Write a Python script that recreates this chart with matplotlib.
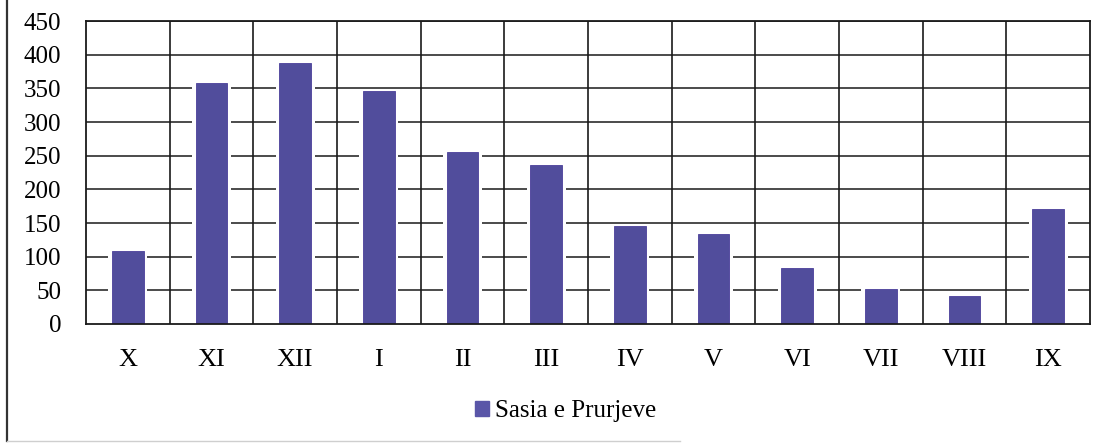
import numpy as np
import matplotlib.pyplot as plt
from matplotlib.lines import Line2D

# monthly data (hydrological year, Oct -> Sep)
muajt = ['X', 'XI', 'XII', 'I', 'II', 'III', 'IV', 'V', 'VI', 'VII', 'VIII', 'IX']
prurjet = [108, 358, 387, 346, 256, 236, 145, 134, 83, 52, 42, 171]
yticks = [0, 50, 100, 150, 200, 250, 300, 350, 400, 450]
emri_serise = 'Sasia e Prurjeve'

plt.rcParams['font.family'] = ['Liberation Serif', 'DejaVu Serif']

fig = plt.figure(figsize=(11.09, 4.44), dpi=100)
ax = fig.add_axes([86/1109, 1-324/444, (1090-86)/1109, (324-21)/444])

x = np.arange(len(muajt))
bar_col = '#514d9c'

# white halo behind the bars (gridlines stop short of the bars)
ax.bar(x, prurjet, width=0.47, color='white', zorder=2)
ax.bar(x, prurjet, width=0.38, color=bar_col, edgecolor='#4a3f9a', linewidth=0.6, zorder=3,
       label=emri_serise)

ax.set_xlim(-0.5, len(muajt) - 0.5)
ax.set_ylim(0, 450)
ax.set_yticks(yticks)
ax.set_xticks(x)
ax.set_xticklabels(muajt)

# gridlines: horizontal at every tick, vertical between months
for y in yticks[1:]:
    ax.axhline(y, color='#1a1a1a', lw=1.1, zorder=1)
for xv in x[:-1] + 0.5:
    ax.axvline(xv, color='#1a1a1a', lw=1.2, zorder=1)

for s in ax.spines.values():
    s.set_color('#1a1a1a')
    s.set_linewidth(1.3)
    s.set_zorder(4)

ax.tick_params(axis='y', length=0, labelsize=18, pad=18)
ax.tick_params(axis='x', length=0, labelsize=19, pad=18)

leg = fig.legend([plt.Rectangle((0, 0), 1, 1, color='#5a56a8')], [emri_serise],
                 loc='center', bbox_to_anchor=(566/1109, 1-411/444), frameon=False,
                 fontsize=18, handlelength=0.55, handleheight=0.55, handletextpad=0.25)

# outer border of the pasted chart (left side and faint bottom)
fig.add_artist(Line2D([7/1109, 7/1109], [1-441/444, 1], color='#333333', lw=1.6))
fig.add_artist(Line2D([7/1109, 680/1109], [1-441/444, 1-441/444], color='#cfcfcf', lw=1.0))

fig.savefig('out.png', dpi=100)
